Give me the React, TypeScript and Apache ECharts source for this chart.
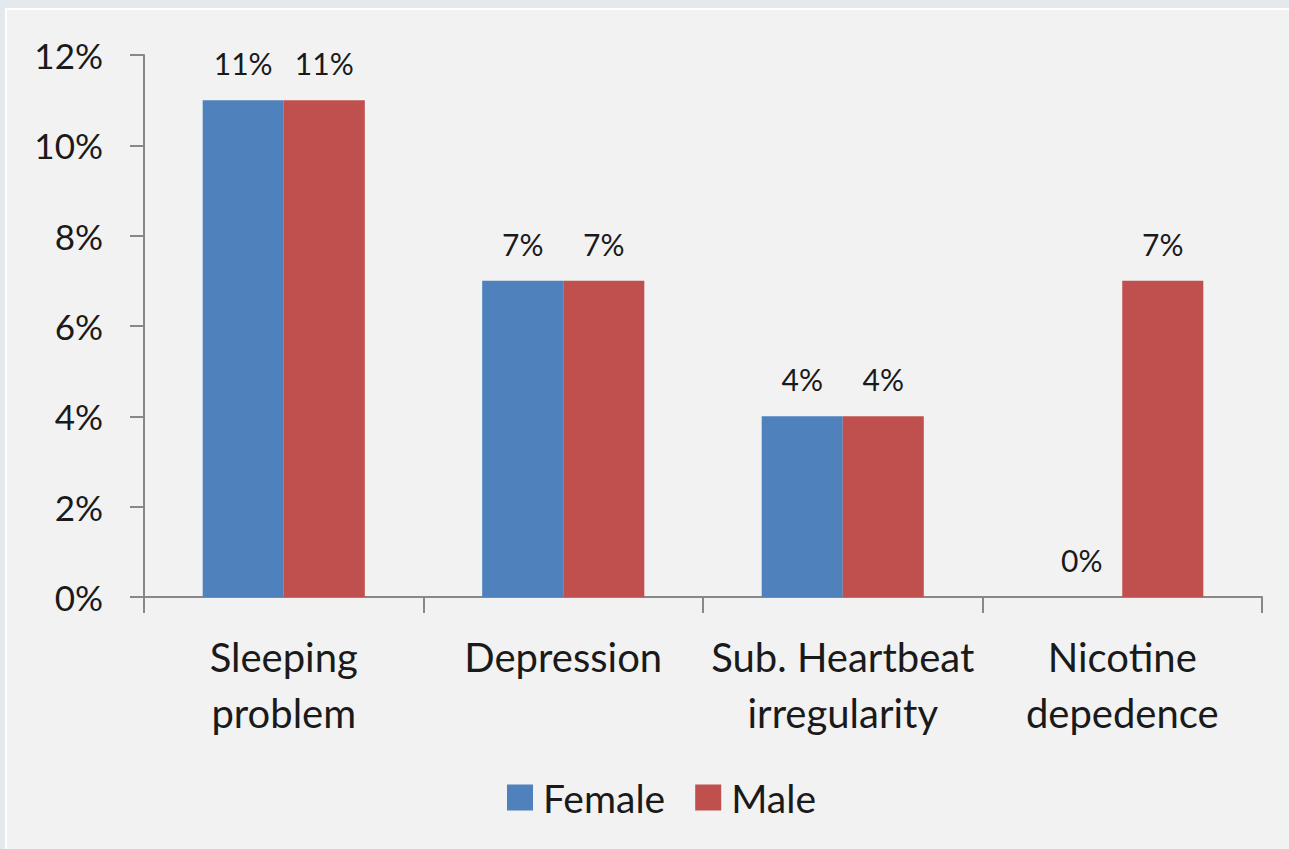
import React, { useEffect, useRef } from "react";
import * as echarts from "echarts";

const categories = ["Sleeping\nproblem", "Depression", "Sub. Heartbeat\nirregularity", "Nicotine\ndepedence"];
const femaleValues = [11, 7, 4, 0];
const maleValues = [11, 7, 4, 7];
const seriesNames = ["Female", "Male"];
const yTicks = { min: 0, max: 12, interval: 2 };

const FONT = "Lato, 'Open Sans', sans-serif";
const TEXT = "#1a1a1a";

export default function App() {
  const ref = useRef<HTMLDivElement>(null);
  useEffect(() => {
    document.body.style.margin = "0";
    const chart = echarts.init(ref.current!, null, { renderer: "svg" });
    const label = {
      show: true,
      position: "top",
      distance: 22,
      formatter: "{c}%",
      fontFamily: FONT,
      fontSize: 30,
      color: TEXT,
    };
    chart.setOption({
      animation: false,
      backgroundColor: "transparent",
      textStyle: { fontFamily: FONT },
      grid: { left: 144, right: 27, top: 55, bottom: 252, containLabel: false },
      legend: {
        data: seriesNames,
        left: 502,
        top: 773,
        itemWidth: 26,
        itemHeight: 26,
        itemGap: 30,
        icon: "rect",
        textStyle: { fontFamily: FONT, fontSize: 39, color: TEXT, padding: [0, 0, 0, 5] },
      },
      xAxis: {
        type: "category",
        data: categories,
        axisLine: { lineStyle: { color: "#888888", width: 2 } },
        axisTick: { show: true, length: 16, lineStyle: { color: "#888888", width: 2 } },
        axisLabel: {
          margin: 32,
          fontFamily: FONT,
          fontSize: 40,
          lineHeight: 56,
          color: TEXT,
          interval: 0,
        },
      },
      yAxis: {
        type: "value",
        min: yTicks.min,
        max: yTicks.max,
        interval: yTicks.interval,
        splitLine: { show: false },
        axisLine: { show: true, lineStyle: { color: "#888888", width: 2 } },
        axisTick: { show: true, length: 14, lineStyle: { color: "#888888", width: 2 } },
        axisLabel: {
          formatter: "{value}%",
          margin: 41,
          fontFamily: FONT,
          fontSize: 35,
          color: TEXT,
        },
      },
      series: [
        {
          name: seriesNames[0],
          type: "bar",
          data: femaleValues,
          barGap: "0%",
          barCategoryGap: "42%",
          itemStyle: { color: "#4f81bd" },
          label,
        },
        {
          name: seriesNames[1],
          type: "bar",
          data: maleValues,
          barGap: "0%",
          barCategoryGap: "42%",
          itemStyle: { color: "#c0504d" },
          label,
        },
      ],
    });
    return () => chart.dispose();
  }, []);
  return (
    <div style={{ position: "absolute", left: 0, top: 0, width: 1289, height: 849, background: "#e3e9ec", overflow: "hidden" }}>
      <div style={{ position: "absolute", left: 5, top: 8, right: 0, bottom: 0, background: "#ffffff" }} />
      <div style={{ position: "absolute", left: 7, top: 10, right: 0, bottom: 0, background: "#f2f2f2" }} />
      <div ref={ref} style={{ position: "absolute", left: 0, top: 0, width: 1289, height: 849 }} />
    </div>
  );
}
